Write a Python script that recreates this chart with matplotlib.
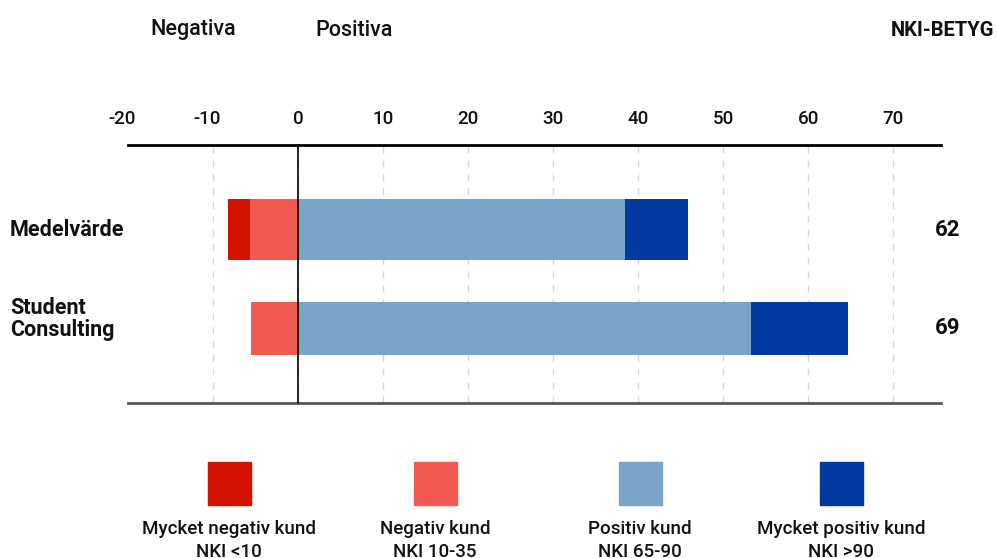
import numpy as np
import matplotlib
matplotlib.use("Agg")
import matplotlib.pyplot as plt
from matplotlib.transforms import ScaledTranslation

plt.rcParams["font.family"] = ["Roboto", "DejaVu Sans"]

# ---------------------------------------------------------------- data
categories   = ["Medelvärde", "Student\nConsulting"]
very_neg     = np.array([2.6, 0.0])     # Mycket negativ kund
neg          = np.array([5.6, 5.5])     # Negativ kund
pos          = np.array([38.5, 53.3])   # Positiv kund
very_pos     = np.array([7.4, 11.4])    # Mycket positiv kund
nki_scores   = ["62", "69"]
xticks       = [-20, -10, 0, 10, 20, 30, 40, 50, 60, 70]

legend_titles = ["Mycket negativ kund", "Negativ kund", "Positiv kund", "Mycket positiv kund"]
legend_sub    = ["NKI <10", "NKI 10-35", "NKI 65-90", "NKI >90"]

C_VNEG = "#d41200"
C_NEG  = "#f05a50"
C_POS  = "#78a4c8"
C_VPOS = "#0039a0"
colors = [C_VNEG, C_NEG, C_POS, C_VPOS]

# ---------------------------------------------------------------- canvas
W, H = 997, 558
fig = plt.figure(figsize=(W / 100, H / 100), dpi=100)
ax = fig.add_axes([128 / W, 1 - 403 / H, 813 / W, 258 / H])

y = np.arange(len(categories))
heights = [0.62, 0.54]

ax.barh(y, -neg, height=heights, color=C_NEG, zorder=2)
ax.barh(y, -very_neg, left=-neg, height=heights, color=C_VNEG, zorder=2)
ax.barh(y, pos, height=heights, color=C_POS, zorder=2)
ax.barh(y, very_pos, left=pos, height=heights, color=C_VPOS, zorder=2)

ax.axvline(0, color="black", linewidth=1.2, zorder=3)

ax.set_xlim(-20, 75.6)
ax.set_ylim(1.753, -0.854)
ax.set_xticks(xticks)
ax.set_xticklabels([str(t) for t in xticks])
ax.xaxis.tick_top()
ax.tick_params(axis="x", length=0, pad=12, labelsize=13.5, colors="#111")
ax.set_yticks([])
for t, lab in zip(xticks, ax.get_xticklabels()):
    lab.set_fontweight("medium")
    if t < 0:   # minus sign hangs to the left of the gridline
        lab.set_transform(lab.get_transform() + ScaledTranslation(-6 / 100, 0, fig.dpi_scale_trans))

ax.grid(axis="x", linestyle=(0, (5, 5)), color="#d8d8d8", linewidth=1, zorder=0)
ax.get_xgridlines()[0].set_visible(False)

for side in ("left", "right"):
    ax.spines[side].set_visible(False)
ax.spines["top"].set_color("black")
ax.spines["top"].set_linewidth(2)
ax.spines["bottom"].set_color("#555555")
ax.spines["bottom"].set_linewidth(2)

# category labels (left) and NKI scores (right)
label_dy = [0, 9]   # px upward shift of the two-line label
for yi, cat, dy in zip(y, categories, label_dy):
    tr = ax.get_yaxis_transform() + ScaledTranslation(0, dy / 100, fig.dpi_scale_trans)
    ax.text((10 - 128) / 813, yi, cat, transform=tr, ha="left", va="center",
            fontsize=15.5, fontweight="bold", color="#111", linespacing=1.0)
for yi, sc in zip(y, nki_scores):
    ax.text((948 - 128) / 813, yi, sc, transform=ax.get_yaxis_transform(), ha="center",
            va="center", fontsize=16, fontweight="bold", color="#111")

# header texts
fig.text(150 / W, 1 - 30 / H, "Negativa", ha="left", va="center",
         fontsize=15.5, fontweight="medium", color="#111")
fig.text(315 / W, 1 - 30 / H, "Positiva", ha="left", va="center",
         fontsize=15.5, fontweight="medium", color="#111")
fig.text(994 / W, 1 - 30 / H, "NKI-BETYG", ha="right", va="center",
         fontsize=14.5, fontweight="bold", color="#111")

# ---------------------------------------------------------------- legend
leg_x = [229, 435, 640, 841]
sq = 43
for cx, col, t1, t2 in zip(leg_x, colors, legend_titles, legend_sub):
    fig.patches.append(plt.Rectangle(((cx - sq / 2) / W, 1 - 505 / H), sq / W, sq / H,
                                     transform=fig.transFigure, color=col, figure=fig))
    fig.text(cx / W, 1 - 529 / H, t1, ha="center", va="center",
             fontsize=13.5, fontweight="medium", color="#111")
    fig.text(cx / W, 1 - 552 / H, t2, ha="center", va="center",
             fontsize=13.5, fontweight="medium", color="#111")

fig.savefig("out.png", dpi=100)
